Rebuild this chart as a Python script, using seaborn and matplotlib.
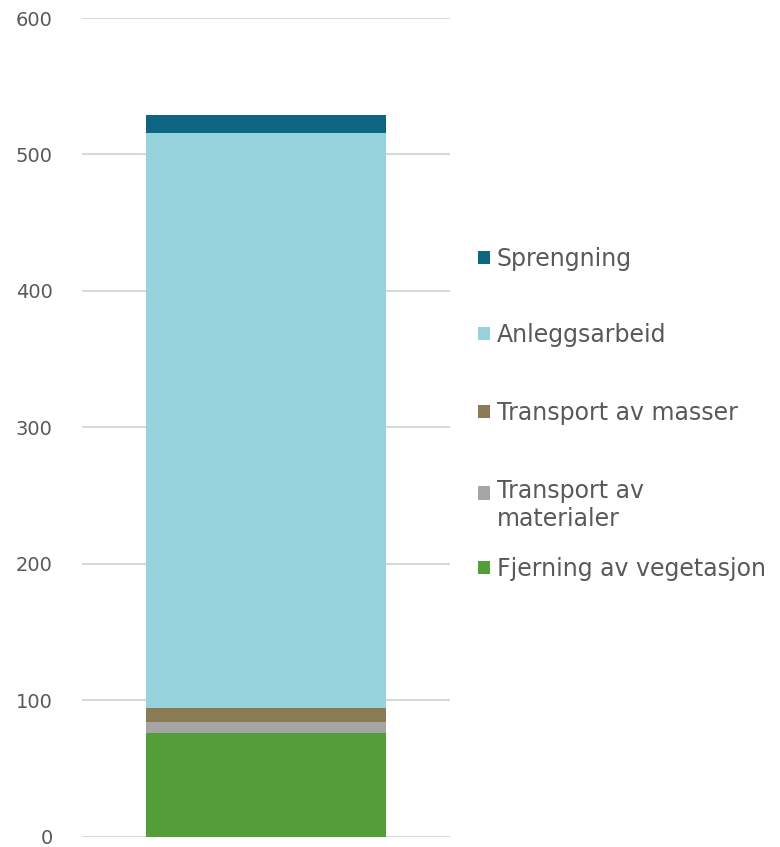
import matplotlib
matplotlib.use("Agg")
import matplotlib.pyplot as plt
import matplotlib.patches as mpatches
from matplotlib.legend_handler import HandlerPatch
import seaborn as sns
import pandas as pd
import numpy as np

categories = ["Fjerning av vegetasjon", "Transport av\nmaterialer", "Transport av masser",
              "Anleggsarbeid", "Sprengning"]
values = [76.0, 8.3, 10.3, 421.4, 13.1]
colors = ["#549E39", "#A5A5A5", "#8B7B55", "#96D3DC", "#0C6682"]
yticks = [0, 100, 200, 300, 400, 500, 600]

sns.set_theme(style="white")
plt.rcParams['font.family'] = ['DejaVu Sans']

W, H = 780, 847
fig = plt.figure(figsize=(7.8, 8.47), dpi=100)
ax = fig.add_axes([0.105, 0.0122, 0.472, 0.9665])

cum = np.cumsum(values)
df = pd.DataFrame({"x": ["total"] * len(values), "cum": cum, "cat": categories})
for i in range(len(values) - 1, -1, -1):
    sns.barplot(data=df.iloc[[i]], x="x", y="cum", color=colors[i], width=0.652,
                ax=ax, saturation=1, edgecolor="none", linewidth=0)

ax.set_xlim(-0.5, 0.5)
ax.set_ylim(0, 600)
ax.set_yticks(yticks)
ax.set_yticklabels([str(t) for t in yticks], fontsize=14, color="#595959")
ax.set_xticks([])
ax.set_xlabel("")
ax.set_ylabel("")
ax.yaxis.grid(True, color="#D9D9D9", linewidth=1.5)
ax.set_axisbelow(True)
for s in ax.spines.values():
    s.set_visible(False)
ax.tick_params(axis="y", length=0, pad=21)


class TopPatch(HandlerPatch):
    def __init__(self, shift):
        self.shift = shift
        super().__init__()

    def create_artists(self, legend, orig_handle, xdescent, ydescent, width, height, fontsize, trans):
        p = mpatches.Rectangle((-xdescent, -ydescent + self.shift), width, height,
                               facecolor=orig_handle.get_facecolor(), edgecolor="none")
        p.set_transform(trans)
        return [p]


# legend entry vertical centers (pixels from top), top to bottom
legend_y = [259, 335, 413, 505, 569]
order = list(range(len(values) - 1, -1, -1))
for k, i in enumerate(order):
    h = mpatches.Patch(color=colors[i], label=categories[i])
    shift = 9.5 if "\n" in categories[i] else 0
    fig.legend(handles=[h], loc="center left", bbox_to_anchor=(478 / W, 1 - legend_y[k] / H),
               frameon=False, fontsize=17, labelcolor="#595959", handlelength=0.5,
               handleheight=0.5, handletextpad=0.3, borderpad=0, borderaxespad=0,
               handler_map={h: TopPatch(shift)})

fig.savefig("out.png", dpi=100, facecolor="white")
